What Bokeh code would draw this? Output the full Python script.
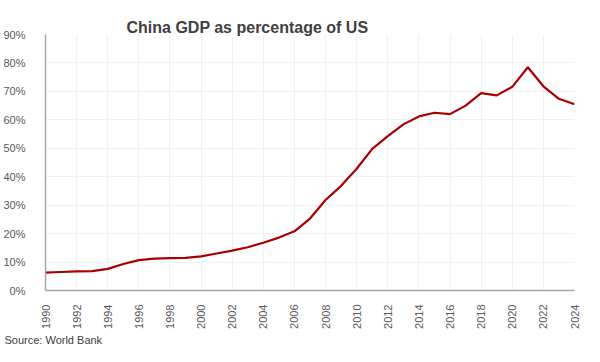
import math
from bokeh.plotting import figure
from bokeh.models import ColumnDataSource, FixedTicker, PrintfTickFormatter, Range1d, Title
from bokeh.embed import file_html
from bokeh.resources import INLINE

years = list(range(1990, 2025))
china_pct_of_us = [
    6.3, 6.5, 6.7, 6.8, 7.6, 9.3, 10.7, 11.2, 11.4, 11.5,
    12.0, 13.0, 14.0, 15.2, 16.8, 18.6, 20.8, 25.3, 31.8, 36.8,
    42.8, 49.8, 54.3, 58.4, 61.2, 62.5, 62.0, 65.0, 69.4, 68.6,
    71.6, 78.5, 71.8, 67.4, 65.5,
]
x_ticks = list(range(1990, 2025, 2))
y_ticks = list(range(0, 91, 10))

src = ColumnDataSource(data=dict(year=years, pct=china_pct_of_us))

p = figure(width=584, height=346, output_backend="svg", toolbar_location=None,
           x_range=Range1d(1990, 2024), y_range=Range1d(0, 90),
           min_border_left=41, min_border_right=10, min_border_top=34, min_border_bottom=50)
p.outline_line_color = None

p.line("year", "pct", source=src, line_color="#a80000", line_width=2.2)

# axes
for ax in (p.xaxis[0], p.yaxis[0]):
    ax.axis_line_color = "#a6a6a6"
    ax.axis_line_width = 1.5
    ax.major_tick_line_color = None
    ax.minor_tick_line_color = None
    ax.major_label_text_font = "Liberation Sans"
    ax.major_label_text_font_size = "11px"
    ax.major_label_text_color = "#595959"

p.xaxis[0].ticker = FixedTicker(ticks=x_ticks)
p.xaxis[0].major_label_orientation = math.pi / 2
p.xaxis[0].major_label_standoff = 8
p.yaxis[0].ticker = FixedTicker(ticks=y_ticks)
p.yaxis[0].formatter = PrintfTickFormatter(format="%d%%")
p.yaxis[0].major_label_standoff = 14

p.xgrid.grid_line_color = "#f0f0f0"
p.ygrid.grid_line_color = "#f0f0f0"
p.xgrid.ticker = FixedTicker(ticks=x_ticks)

title = Title(text="China GDP as percentage of US", align="left", offset=81,
              text_font="Liberation Sans", text_font_size="16px", text_font_style="bold",
              text_color="#404040", standoff=-3)
p.add_layout(title, "above")

source_title = Title(text="Source: World Bank", align="left", offset=-41,
                     text_font="Liberation Sans", text_font_size="11px",
                     text_font_style="normal", text_color="#404040", standoff=1)
p.add_layout(source_title, "below")

open("out.html", "w").write(file_html(p, INLINE))
